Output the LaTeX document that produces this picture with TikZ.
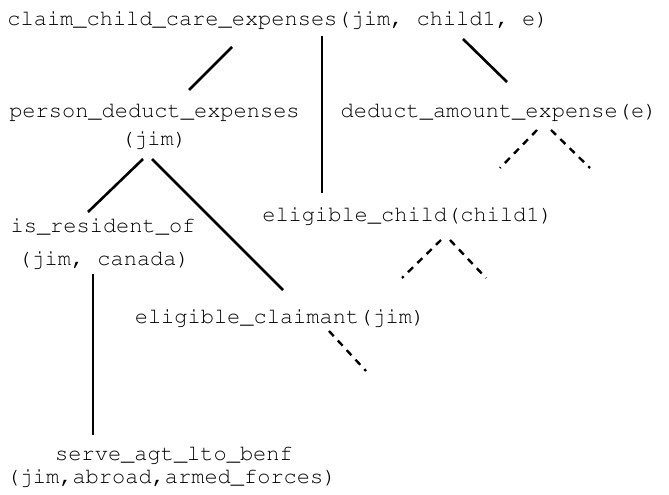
\documentclass[tikz,border=0pt]{standalone}
\usepackage{tikz}
\newcommand\courfont{\fontencoding{T1}\fontfamily{pcr}\fontseries{m}\fontshape{n}\fontsize{22}{26}\selectfont}
\begin{document}
\begin{tikzpicture}[x=1pt,y=-1pt,
  lbl/.style={font=\courfont, inner sep=0pt, anchor=base},
  conn/.style={line width=2.6pt},
  dconn/.style={line width=2.4pt, dash pattern=on 7pt off 6pt}]
\useasboundingbox (0,0) rectangle (669,495);
% nodes
\node[lbl] (top)  at (278,26)   {claim\_child\_care\_expenses(jim, child1, e)};
\node[lbl] (pde)  at (154.5,117) {person\_deduct\_expenses};
\node[lbl] (pdej) at (154,145)  {(jim)};
\node[lbl] (dae)  at (499,117)  {deduct\_amount\_expense(e)};
\node[lbl] (ec)   at (407.5,221) {eligible\_child(child1)};
\node[lbl] (iro)  at (103,232)  {is\_resident\_of};
\node[lbl] (iroj) at (104,265)  {(jim, canada)};
\node[lbl] (ecl)  at (280,323)  {eligible\_claimant(jim)};
\node[lbl] (sab)  at (174,460)  {serve\_agt\_lto\_benf};
\node[lbl] (sabj) at (171.5,483) {(jim,abroad,armed\_forces)};
% free ends of the open branches
\coordinate (dae1) at (500,168);
\coordinate (dae2) at (590,168);
\coordinate (ec1)  at (402,278);
\coordinate (ec2)  at (486,278);
\coordinate (ecl1) at (366,371);
% solid connectors
\draw[conn] ([shift={(-46,21)}]top.base) -- ([shift={(34.5,-27)}]pde.base);
\draw[conn] ([shift={(44,10)}]top.base) -- ([shift={(-85.5,-28)}]ec.base);
\draw[conn] ([shift={(185,13)}]top.base) -- ([shift={(8,-35)}]dae.base);
\draw[conn] ([shift={(-11,14)}]pdej.base) -- ([shift={(-15,-20)}]iro.base);
\draw[conn] ([shift={(-2,14)}]pdej.base) -- ([shift={(3,-33)}]ecl.base);
\draw[conn] ([shift={(-11,9)}]iroj.base) -- ([shift={(-81,-25)}]sab.base);
% dashed connectors
\draw[dconn] ([shift={(38,13)}]dae.base) -- (dae1);
\draw[dconn] ([shift={(52,13)}]dae.base) -- (dae2);
\draw[dconn] ([shift={(33.5,19)}]ec.base) -- (ec1);
\draw[dconn] ([shift={(42.5,19)}]ec.base) -- (ec2);
\draw[dconn] ([shift={(49,8)}]ecl.base) -- (ecl1);
\end{tikzpicture}
\end{document}
